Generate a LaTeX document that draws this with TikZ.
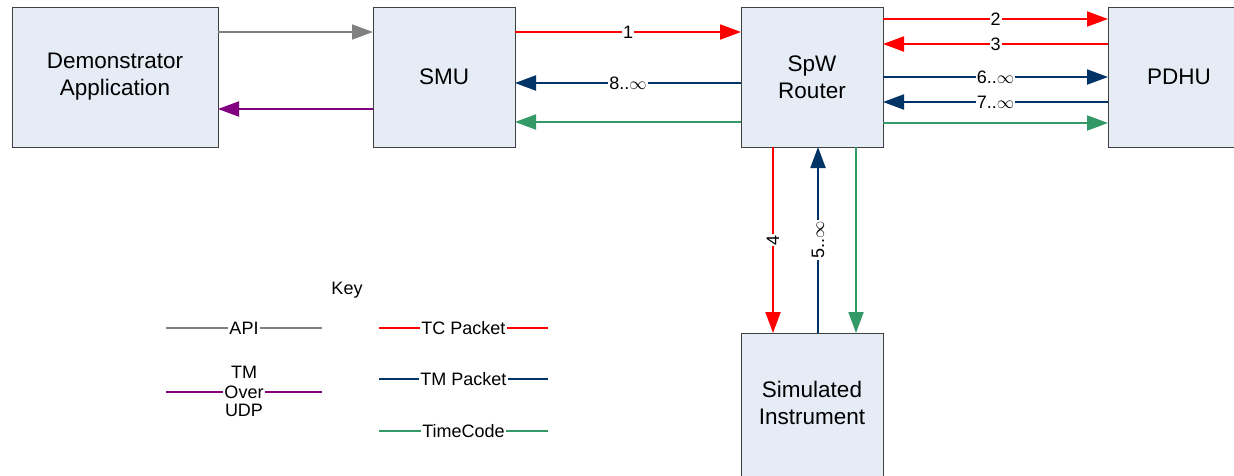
\documentclass[tikz,border=0pt]{standalone}
\usepackage{fontspec}
\setmainfont{Liberation Sans}
\usetikzlibrary{positioning,arrows.meta}

\definecolor{tmblue}{RGB}{0,51,102}
\definecolor{tcgreen}{RGB}{51,153,102}
\definecolor{apigray}{RGB}{128,128,128}
\definecolor{udppurple}{RGB}{128,0,128}
\definecolor{boxfill}{RGB}{230,236,246}
\definecolor{boxline}{RGB}{64,64,64}

\begin{document}
\begin{tikzpicture}[x=1pt, y=-1pt,
    unit/.style={draw=boxline, fill=boxfill, line width=1pt, inner sep=0pt, outer sep=0pt,
        minimum width=142pt, minimum height=140pt, align=center,
        font=\fontsize{22.5}{27}\selectfont},
    flow/.style={line width=2pt, -{Triangle[length=21pt,width=15pt]}},
    tc/.style={flow, red},
    tm/.style={flow, tmblue},
    tcode/.style={flow, tcgreen},
    api/.style={flow, apigray, line width=1.6pt},
    udp/.style={flow, udppurple},
    lbl/.style={fill=white, inner sep=1pt, text=black,
        font=\fontsize{18}{21.5}\selectfont, align=center},
    keyline/.style={line width=2pt}]

\path[use as bounding box, clip] (0,0) rectangle (1234,475);

% units
\node[unit, minimum width=206pt] (demo) at (115,77) {Demonstrator\\Application};
\node[unit, right=155pt of demo] (smu) {SMU};
\node[unit, right=226pt of smu] (router) {SpW\\Router};
\node[unit, right=225pt of router] (pdhu) {PDHU};
\node[unit, below=186pt of router, minimum height=150pt] (sim) {};
\node[font=\fontsize{22.5}{27}\selectfont, align=center] (simtxt) at ([yshift=-70pt]sim.north) {Simulated\\Instrument};

% demonstrator <-> smu
\draw[api] ([yshift=-25pt]demo.north east) -- ([yshift=-25pt]smu.north west);
\draw[udp] ([yshift=-102pt]smu.north west) -- ([yshift=-102pt]demo.north east);

% smu <-> router
\draw[tc] ([yshift=-25pt]smu.north east) -- node[lbl] {1} ([yshift=-25pt]router.north west);
\draw[tm] ([yshift=-76pt]router.north west) -- node[lbl] {8..$\infty$} ([yshift=-76pt]smu.north east);
\draw[tcode] ([yshift=-115pt]router.north west) -- ([yshift=-115pt]smu.north east);

% router <-> pdhu
\draw[tc] ([yshift=-12pt]router.north east) -- node[lbl] {2} ([yshift=-12pt]pdhu.north west);
\draw[tc] ([yshift=-37pt]pdhu.north west) -- node[lbl] {3} ([yshift=-37pt]router.north east);
\draw[tm] ([yshift=-70pt]router.north east) -- node[lbl] {6..$\infty$} ([yshift=-70pt]pdhu.north west);
\draw[tm] ([yshift=-95pt]pdhu.north west) -- node[lbl] {7..$\infty$} ([yshift=-95pt]router.north east);
\draw[tcode] ([yshift=-116pt]router.north east) -- ([yshift=-116pt]pdhu.north west);

% router <-> instrument
\draw[tc] ([xshift=32pt]router.south west) -- node[lbl, rotate=90] {4} ([xshift=32pt]sim.north west);
\draw[tm] ([xshift=77pt]sim.north west) -- node[lbl, rotate=90] {5..$\infty$} ([xshift=77pt]router.south west);
\draw[tcode] ([xshift=115pt]router.south west) -- ([xshift=115pt]sim.north west);

% key
\node[font=\fontsize{18}{21.5}\selectfont] (key) at (347,290) {Key};
\coordinate (api-a) at (166,328);
\coordinate (api-b) at (322,328);
\coordinate (udp-a) at (166,392);
\coordinate (udp-b) at (322,392);
\draw[keyline, apigray] (api-a) -- node[lbl] {API} (api-b);
\draw[keyline, udppurple] (udp-a) -- node[lbl,
    label={[lbl, fill=none, inner sep=0pt, label distance=4pt]above:TM},
    label={[lbl, fill=none, inner sep=0pt, label distance=3pt]below:UDP}] (over) {Over} (udp-b);
\foreach \k/\col/\yk/\txt in {tc/red/328/TC Packet, tm/tmblue/379/TM Packet, tcode/tcgreen/431/TimeCode}
{
    \coordinate (\k-a) at (379,\yk);
    \coordinate (\k-b) at (548,\yk);
    \draw[keyline, \col] (\k-a) -- node[lbl] {\txt} (\k-b);
}

\end{tikzpicture}
\end{document}
